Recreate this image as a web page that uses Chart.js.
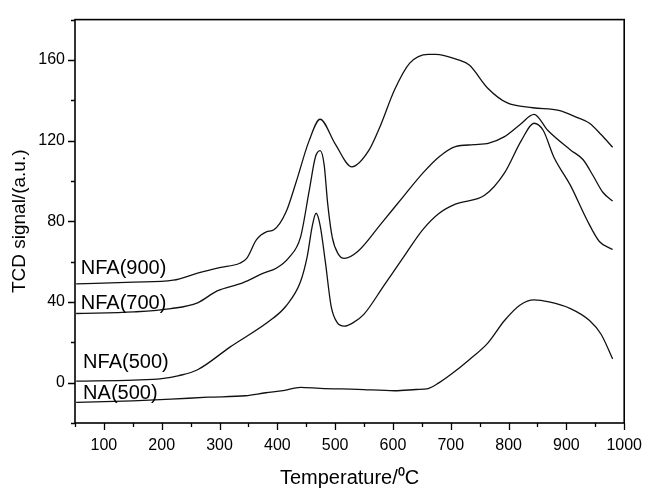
<!DOCTYPE html>
<html>
<head>
<meta charset="utf-8">
<script src="https://cdn.jsdelivr.net/npm/chart.js@4.4.1/dist/chart.umd.min.js"></script>
<style>
  html, body { margin: 0; padding: 0; background: #fff; }
  #wrap { width: 655px; height: 490px; }
</style>
</head>
<body>
<div id="wrap"><canvas id="c" width="655" height="490"></canvas></div>
<script>
// ---- Data ----
const seriesNames = ["NFA(900)", "NFA(700)", "NFA(500)", "NA(500)"];

const nfa900T = [52,152,220,262,300,335,347,364,381,394,415,432,455,474,500,529,558,577,603,629,661,674,713,732,764,797,842,887,919,940,960,980];
const nfa900Y = [49,49.8,50.8,54.3,57,59.2,61.6,70.9,74.8,75.8,84.6,99,120,130.6,118.4,107,115,126.5,145.3,158.4,162.8,162.8,160,157.5,146,138.8,136.3,135,131.4,128.6,123,116.7];

const nfa700T = [52,152,216,262,296,340,376,398,420,440,455,466,474,481,487,495,505,516,539,580,620,652,680,708,740,766,793,820,844,868,907,929,946,963,980];
const nfa700Y = [34.3,35.1,36.7,39.6,45.5,49.5,54.3,56.7,62,72,95,112,115,108,89,72,64,61.6,65,79,93,104,112,117,118,118.8,122,128,133,125,115.4,110.5,102.7,94.4,90];

const nfa500T = [52,152,200,230,262,318,393,415,440,452,460,467,474,483,493,503,516,530,550,584,620,652,680,708,759,793,822,844,860,878,907,935,957,980];
const nfa500Y = [0.8,1.3,2,3.5,6.4,17.6,32,38,50,63,77,84,78,60,38,30,28,29.5,34,48,63,76,84,88.5,93,104,120,128.6,125,112,97.8,81,70,66];

const na500T = [52,150,216,280,345,380,410,440,474,539,603,640,661,680,700,732,764,793,820,844,870,907,940,960,980];
const na500Y = [-9.8,-9,-8.2,-7.2,-6.5,-5,-4,-2.3,-2.8,-3.3,-4,-3.4,-2.9,0,4,11.4,19.6,30.8,38.5,41,40,36.7,30.8,24,11.8];

// label anchor positions (data units): x, y
const labelX = [60, 60, 64, 64];
const labelY = [56.5, 39.5, 10, -5.5];

const xMin = 50, xMax = 1000, xStep = 50, xLabelEvery = 100;
const yMin = -20, yMax = 180, yStep = 20, yLabelEvery = 40;

const xTitle = "Temperature/\u2070C";
const yTitle = "TCD signal/(a.u.)";

// ---- Build chart ----
function pts(t, y) { return t.map((v, i) => ({ x: v, y: y[i] })); }
const allT = [nfa900T, nfa700T, nfa500T, na500T];
const allY = [nfa900Y, nfa700Y, nfa500Y, na500Y];

const FONT = "'Liberation Sans', Arial, sans-serif";

const boxAndTicks = {
  id: 'boxAndTicks',
  afterDraw(chart) {
    const ctx = chart.ctx, a = chart.chartArea;
    const xs = chart.scales.x, ys = chart.scales.y;
    ctx.save();
    ctx.strokeStyle = '#000';
    ctx.lineWidth = 1.6;
    ctx.strokeRect(a.left, a.top, a.right - a.left, a.bottom - a.top);
    ctx.lineWidth = 1.3;
    ctx.beginPath();
    for (let v = xMin; v <= xMax + 1e-6; v += xStep) {
      const p = Math.round(xs.getPixelForValue(v)) + 0.5;
      const len = (v % xLabelEvery === 0) ? 7 : 4;
      ctx.moveTo(p, a.bottom); ctx.lineTo(p, a.bottom + len);
    }
    for (let v = yMin; v <= yMax + 1e-6; v += yStep) {
      const p = Math.round(ys.getPixelForValue(v)) + 0.5;
      const len = (v % yLabelEvery === 0) ? 7 : 4;
      ctx.moveTo(a.left, p); ctx.lineTo(a.left - len, p);
    }
    ctx.stroke();
    // series labels
    ctx.fillStyle = '#000';
    ctx.font = '20px ' + FONT;
    ctx.textBaseline = 'middle';
    ctx.textAlign = 'left';
    seriesNames.forEach((n, i) => {
      ctx.fillText(n, xs.getPixelForValue(labelX[i]), ys.getPixelForValue(labelY[i]));
    });
    ctx.restore();
  }
};

new Chart(document.getElementById('c'), {
  type: 'line',
  data: {
    datasets: seriesNames.map((n, i) => ({
      label: n,
      data: pts(allT[i], allY[i]),
      borderColor: '#111',
      borderWidth: 1.3,
      pointRadius: 0,
      fill: false,
      cubicInterpolationMode: 'monotone'
    }))
  },
  options: {
    responsive: false,
    animation: false,
    devicePixelRatio: 1,
    layout: { padding: { top: 14, right: 20, left: 0, bottom: 0 } },
    plugins: { legend: { display: false }, tooltip: { enabled: false } },
    scales: {
      x: {
        type: 'linear', min: xMin, max: xMax,
        grid: { display: false, drawTicks: false },
        border: { display: false },
        ticks: {
          stepSize: xStep, autoSkip: false, maxRotation: 0, padding: 13,
          color: '#000', font: { family: FONT, size: 16 },
          callback: v => (v % xLabelEvery === 0 ? String(v) : '')
        },
        title: { display: true, text: xTitle, color: '#000', font: { family: FONT, size: 20 }, padding: { top: 2, bottom: 0 } },
        afterFit: s => { s.height = 67; }
      },
      y: {
        type: 'linear', min: yMin, max: yMax,
        grid: { display: false, drawTicks: false },
        border: { display: false },
        ticks: {
          stepSize: yStep, autoSkip: false, padding: 10,
          color: '#000', font: { family: FONT, size: 16 },
          callback: v => (v % yLabelEvery === 0 ? String(v) : '')
        },
        title: { display: true, text: yTitle, color: '#000', font: { family: FONT, size: 19 }, padding: { top: 8, bottom: 0 } },
        afterFit: s => { s.width = 75; }
      }
    }
  },
  plugins: [boxAndTicks]
});
</script>
</body>
</html>
